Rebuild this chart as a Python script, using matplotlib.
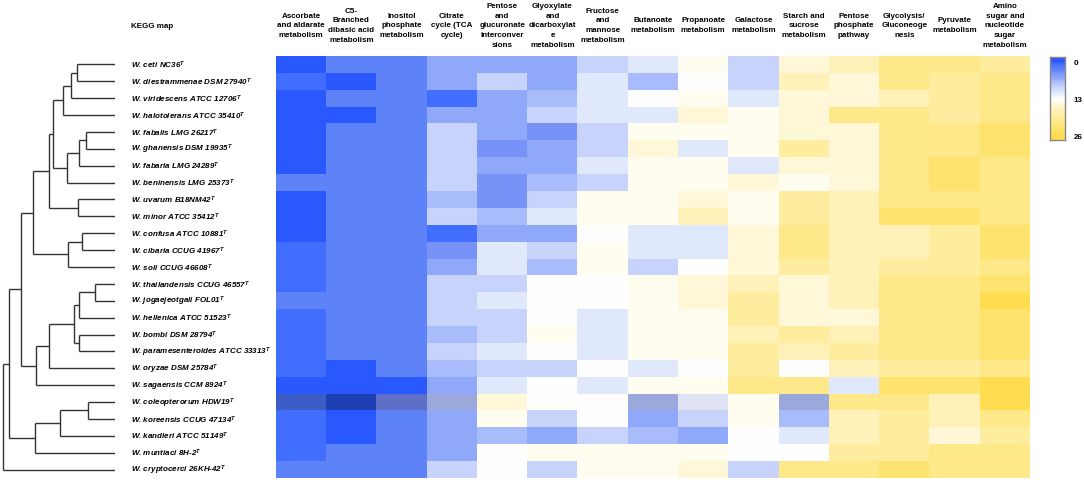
import numpy as np
import matplotlib
matplotlib.use("Agg")
import matplotlib.pyplot as plt
from matplotlib.colors import LinearSegmentedColormap, Normalize

plt.rcParams['font.family'] = ['Liberation Sans', 'DejaVu Sans']
plt.rcParams['mathtext.fontset'] = 'custom'
plt.rcParams['mathtext.it'] = 'Liberation Sans:italic:bold'
plt.rcParams['mathtext.rm'] = 'Liberation Sans:bold'

# ---------------- data ----------------
species = ["W. ceti NC36", "W. diestrammenae DSM 27940", "W. viridescens ATCC 12706",
           "W. halotolerans ATCC 35410", "W. fabalis LMG 26217", "W. ghanensis DSM 19935",
           "W. fabaria LMG 24289", "W. beninensis LMG 25373", "W. uvarum B18NM42",
           "W. minor ATCC 35412", "W. confusa ATCC 10881", "W. cibaria CCUG 41967",
           "W. soli CCUG 46608", "W. thailandensis CCUG 46557", "W. jogaejeotgali FOL01",
           "W. hellenica ATCC 51523", "W. bombi DSM 28794", "W. paramesenteroides ATCC 33313",
           "W. oryzae DSM 25784", "W. sagaensis CCM 8924", "W. coleopterorum HDW19",
           "W. koreensis CCUG 47134", "W. kandleri ATCC 51149", "W. muntiaci 8H-2",
           "W. cryptocerci 26KH-42"]

pathways = ["Ascorbate\nand aldarate\nmetabolism", "C5-\nBranched\ndibasic acid\nmetabolism",
            "Inositol\nphosphate\nmetabolism", "Citrate\ncycle (TCA\ncycle)",
            "Pentose\nand\nglucuronate\ninterconver\nsions",
            "Glyoxylate\nand\ndicarboxylat\ne\nmetabolism",
            "Fructose\nand\nmannose\nmetabolism", "Butanoate\nmetabolism",
            "Propanoate\nmetabolism", "Galactose\nmetabolism",
            "Starch and\nsucrose\nmetabolism", "Pentose\nphosphate\npathway",
            "Glycolysis/\nGluconeoge\nnesis", "Pyruvate\nmetabolism",
            "Amino\nsugar and\nnucleotide\nsugar\nmetabolism"]

ascorbate = [0, 1, 0, 0, 0, 0, 0, 3, 0, 0, 0, 1, 1, 1, 3, 1, 1, 1, 1, 0, 1, 1, 1, 1, 3]
c5_branched = [3, 0, 3, 0, 3, 3, 3, 3, 3, 3, 3, 3, 3, 3, 3, 3, 3, 3, 0, 0, 0, 0, 0, 3, 3]
inositol = [3, 3, 3, 3, 3, 3, 3, 3, 3, 3, 3, 3, 3, 3, 3, 3, 3, 3, 3, 0, 3, 3, 3, 3, 3]
citrate = [6, 6, 1, 6, 9, 9, 9, 9, 7, 9, 1, 4, 6, 9, 9, 9, 7, 9, 7, 6, 6, 6, 6, 6, 9]
pentose_gluc = [6, 9, 6, 6, 6, 4, 6, 4, 4, 7, 6, 11, 11, 9, 11, 9, 9, 11, 9, 11, 15, 14, 7, 13, 13]
glyoxylate = [6, 6, 7, 9, 4, 6, 6, 7, 9, 11, 6, 9, 7, 13, 13, 13, 14, 13, 9, 13, 13, 9, 6, 14, 9]
fructose = [9, 11, 11, 11, 9, 9, 11, 9, 14, 14, 13, 14, 14, 13, 13, 11, 11, 11, 13, 11, 13, 13, 9, 14, 14]
butanoate = [11, 7, 13, 11, 14, 15, 14, 14, 14, 14, 11, 11, 9, 14, 14, 14, 14, 14, 11, 14, 6, 6, 7, 14, 14]
propanoate = [14, 13, 14, 15, 14, 11, 14, 14, 15, 17, 11, 11, 13, 15, 15, 14, 14, 14, 13, 14, 11, 9, 6, 14, 15]
galactose = [9, 9, 11, 14, 14, 14, 11, 15, 14, 14, 15, 15, 15, 17, 19, 19, 17, 19, 19, 21, 14, 14, 13, 13, 9]
starch = [15, 17, 15, 15, 15, 19, 15, 14, 19, 19, 21, 21, 19, 15, 15, 15, 19, 17, 13, 21, 6, 7, 11, 13, 21]
pentose_phos = [17, 15, 15, 21, 15, 15, 15, 15, 17, 17, 17, 17, 17, 17, 17, 15, 17, 19, 17, 11, 21, 17, 17, 19, 21]
glycolysis = [21, 21, 17, 21, 21, 21, 21, 21, 21, 23, 17, 17, 19, 21, 21, 21, 21, 21, 19, 23, 21, 19, 19, 19, 23]
pyruvate = [21, 19, 19, 19, 21, 21, 23, 23, 21, 23, 19, 19, 19, 21, 21, 21, 21, 21, 19, 23, 17, 17, 15, 21, 21]
amino_sugar = [19, 21, 21, 21, 23, 23, 21, 21, 21, 21, 23, 23, 21, 23, 26, 23, 23, 23, 21, 26, 26, 21, 19, 21, 21]

cbar_ticks = [0, 13, 26]

# dendrogram merges: (child a, child b, height); leaves 0..24, new nodes from 25
merges = [(0, 1, 38), (25, 2, 44), (26, 3, 52), (4, 5, 29), (28, 6, 36), (29, 7, 48),
          (27, 30, 62), (8, 9, 37), (31, 32, 66), (10, 11, 33), (34, 12, 47), (33, 35, 82),
          (13, 14, 20), (37, 15, 36), (16, 17, 36), (38, 39, 41), (40, 18, 66), (41, 19, 79),
          (36, 42, 94), (20, 21, 27), (44, 22, 55), (45, 23, 80), (43, 46, 106), (47, 24, 112)]

highlight = "W. coleopterorum HDW19"

# ---------------- figure ----------------
W, H = 1084, 481
fig = plt.figure(figsize=(W / 100, H / 100), dpi=100)

def fax(x0, y0, x1, y1):
    return fig.add_axes([x0 / W, 1 - y1 / H, (x1 - x0) / W, (y1 - y0) / H])

mat = np.array([ascorbate, c5_branched, inositol, citrate, pentose_gluc, glyoxylate,
                fructose, butanoate, propanoate, galactose, starch, pentose_phos,
                glycolysis, pyruvate, amino_sugar], dtype=float).T
nrow, ncol = mat.shape

pos = [0, 1, 3, 4, 6, 7, 9, 11, 13, 14, 15, 17, 19, 21, 23, 26]
cols = ["#2a58ff", "#4470ff", "#5f84f8", "#7894f8", "#90a8fa", "#aabdfa", "#c8d4fc",
        "#e0e8fc", "#ffffff", "#fffdf0", "#fff8d8", "#fff2b8", "#ffeea0", "#ffe98a",
        "#ffe470", "#ffdc50"]
cols_dark = ["#1f3fb5", "#4060c8", "#6070c8", "#7484cc", "#9aa8dc", "#aab4e0", "#c4cae8",
             "#dfe3f3", "#ffffff", "#fffdf0", "#fff8d8", "#fff2b8", "#ffeea0", "#ffe98a",
             "#ffe470", "#ffdc50"]
cmap = LinearSegmentedColormap.from_list("by", list(zip(np.array(pos) / 26, cols)))
cmap_d = LinearSegmentedColormap.from_list("byd", list(zip(np.array(pos) / 26, cols_dark)))
norm = Normalize(0, 26)

hx0, hx1, hy0, hy1 = 276, 1030, 57, 479
ax = fax(hx0, hy0, hx1, hy1)
hi = species.index(highlight)
mask_main = np.zeros_like(mat, dtype=bool)
mask_main[hi, :] = True
ax.imshow(np.ma.array(mat, mask=mask_main), cmap=cmap, norm=norm, aspect='auto',
          interpolation='nearest', extent=(0, ncol, nrow, 0))
ax.imshow(np.ma.array(mat, mask=~mask_main), cmap=cmap_d, norm=norm, aspect='auto',
          interpolation='nearest', extent=(0, ncol, nrow, 0))
ax.set_xlim(0, ncol)
ax.set_ylim(nrow, 0)
ax.axis('off')

# column headers
for j, p in enumerate(pathways):
    fig.text((hx0 + (j + 0.5) * (hx1 - hx0) / ncol) / W, 1 - 25.8 / H, p,
             ha='center', va='center', fontsize=5.8, fontweight='bold',
             linespacing=1.55)
fig.text(131 / W, 1 - 26.5 / H, "KEGG map", ha='left', va='center',
         fontsize=5.8, fontweight='bold')

# row labels
rh = (hy1 - hy0) / nrow
for i, s in enumerate(species):
    fig.text(131 / W, 1 - (hy0 + (i + 0.5) * rh) / H, s + "$^{T}$",
             ha='left', va='center', fontsize=5.8, fontweight='bold', fontstyle='italic')

# dendrogram
axd = fax(2, hy0, 115, hy1)
ypos = {i: i + 0.5 for i in range(nrow)}
hgt = {i: 0.0 for i in range(nrow)}
nid = nrow
for a, b, h in merges:
    for c in (a, b):
        axd.plot([hgt[c], h], [ypos[c], ypos[c]], color="#333333", lw=1.0,
                 solid_capstyle='butt')
    axd.plot([h, h], [ypos[a], ypos[b]], color="#333333", lw=1.0, solid_capstyle='butt')
    ypos[nid] = (ypos[a] + ypos[b]) / 2
    hgt[nid] = h
    nid += 1
axd.set_xlim(113, 0)
axd.set_ylim(nrow, 0)
axd.axis('off')

# colorbar (gradient drawn through the same colormap and norm)
cax = fax(1050, 58, 1065, 141)
lo, hi_v = -1.4, 27.4
grad = np.linspace(lo, hi_v, 300).reshape(-1, 1)
cax.imshow(grad, cmap=cmap, norm=norm, aspect='auto', interpolation='bilinear',
           extent=(0, 1, hi_v, lo))
cax.set_ylim(hi_v, lo)
cax.set_xlim(0, 1)
cax.set_xticks([])
cax.yaxis.tick_right()
cax.set_yticks(cbar_ticks)
cax.set_yticklabels([str(t) for t in cbar_ticks], fontweight='bold', fontsize=5.8)
cax.tick_params(axis='y', length=0, pad=6)
for sp in cax.spines.values():
    sp.set_edgecolor("#888888")
    sp.set_linewidth(1.0)

fig.savefig("out.png", dpi=100)
